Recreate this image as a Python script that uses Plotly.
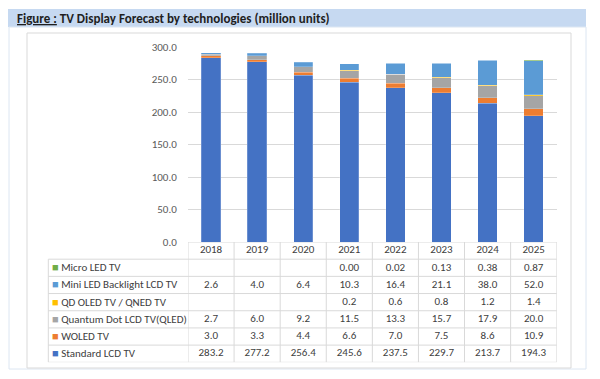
import plotly.graph_objects as go

years = ["2018", "2019", "2020", "2021", "2022", "2023", "2024", "2025"]

standard_lcd = [283.2, 277.2, 256.4, 245.6, 237.5, 229.7, 213.7, 194.3]
woled = [3.0, 3.3, 4.4, 6.6, 7.0, 7.5, 8.6, 10.9]
qled = [2.7, 6.0, 9.2, 11.5, 13.3, 15.7, 17.9, 20.0]
qd_oled = [None, None, None, 0.2, 0.6, 0.8, 1.2, 1.4]
mini_led = [2.6, 4.0, 6.4, 10.3, 16.4, 21.1, 38.0, 52.0]
micro_led = [None, None, None, 0.00, 0.02, 0.13, 0.38, 0.87]

# bottom-to-top stacking order: (name, values, colour, number format)
series = [
    ("Standard LCD TV", standard_lcd, "#4472C4", "{:.1f}"),
    ("WOLED TV", woled, "#ED7D31", "{:.1f}"),
    ("Quantum Dot LCD TV(QLED)", qled, "#A5A5A5", "{:.1f}"),
    ("QD OLED TV / QNED TV", qd_oled, "#FFC000", "{:.1f}"),
    ("Mini LED Backlight LCD TV", mini_led, "#5B9BD5", "{:.1f}"),
    ("Micro LED TV", micro_led, "#70AD47", "{:.2f}"),
]

W, H = 600, 379
FONT = "Carlito, Lato"
TXT = "#404040"
GRID = "#D9D9D9"

def px(x):
    return x / W

def py(y):
    return 1 - y / H

fig = go.Figure()

for name, vals, col, fmt in series:
    fig.add_trace(go.Bar(
        x=years, y=vals, name=name,
        marker=dict(color=col, line=dict(color="rgba(255,255,255,0.35)", width=0.6)),
        showlegend=False, xaxis="x", yaxis="y",
    ))

# ---- data table under the chart (row 0 = year header, rows 1.. = series top-to-bottom)
rows = list(reversed(series))
n_rows = len(rows) + 1

tx, ty, tt = [], [], []
for i, yr in enumerate(years):
    tx.append(yr); ty.append(0); tt.append(yr)
    for r, (name, vals, col, fmt) in enumerate(rows, start=1):
        v = vals[i]
        if v is not None:
            tx.append(yr); ty.append(r); tt.append(fmt.format(v))

fig.add_trace(go.Scatter(
    x=tx, y=ty, text=tt, mode="text", xaxis="x", yaxis="y2",
    textfont=dict(family=FONT, size=11, color=TXT), showlegend=False, hoverinfo="skip",
))

tbl_x0, tbl_x1 = 48.3, 556.7
plot_x0 = 188.0
tbl_top, tbl_bot = 242.0, 362.3

annotations = [dict(
    text="<b><u>Figure :</u> TV Display Forecast by technologies (million units)</b>",
    xref="paper", yref="paper", x=px(15), y=py(18.5), xanchor="left", yanchor="middle",
    showarrow=False, font=dict(family=FONT, size=13, color="#1F1F1F"),
)]
for r, (name, vals, col, fmt) in enumerate(rows, start=1):
    annotations.append(dict(
        text=f"<span style='color:{col}'>■</span> {name}",
        xref="paper", yref="y2", x=px(tbl_x0 + 2), y=r, xanchor="left", yanchor="middle",
        showarrow=False, font=dict(family=FONT, size=11, color=TXT),
    ))

shapes = [
    # title band
    dict(type="rect", xref="paper", yref="paper", x0=px(8), x1=px(586), y0=py(27), y1=py(9),
         fillcolor="#C6D9F1", line=dict(width=0), layer="below"),
    # outer frame
    dict(type="rect", xref="paper", yref="paper", x0=px(9), x1=px(586), y0=py(369), y1=py(27),
         fillcolor="rgba(0,0,0,0)", line=dict(color="#DCE6F2", width=1), layer="below"),
    # chart area frame
    dict(type="rect", xref="paper", yref="paper", x0=px(27), x1=px(571), y0=py(368), y1=py(33),
         fillcolor="rgba(0,0,0,0)", line=dict(color="#D9D9D9", width=1), layer="below"),
]
# table horizontal rules
for k in range(n_rows + 1):
    shapes.append(dict(type="line", xref="paper", yref="y2",
                       x0=px(plot_x0 if k == 0 else tbl_x0), x1=px(tbl_x1),
                       y0=k - 0.5, y1=k - 0.5, line=dict(color=GRID, width=1)))
# table vertical rules at category boundaries
for j in range(len(years) + 1):
    shapes.append(dict(type="line", xref="x", yref="y2", x0=j - 0.5, x1=j - 0.5,
                       y0=-0.5, y1=n_rows - 0.5, line=dict(color=GRID, width=1)))
# left edge of the label column
shapes.append(dict(type="line", xref="paper", yref="y2", x0=px(tbl_x0), x1=px(tbl_x0),
                   y0=0.5, y1=n_rows - 0.5, line=dict(color=GRID, width=1)))

fig.update_layout(
    width=W, height=H,
    margin=dict(l=0, r=0, t=0, b=0, autoexpand=False),
    paper_bgcolor="white", plot_bgcolor="white",
    showlegend=False,
    barmode="stack", bargap=0.58,
    font=dict(family=FONT, size=11, color=TXT),
    shapes=shapes, annotations=annotations,
    xaxis=dict(domain=[px(plot_x0), px(tbl_x1)], showticklabels=False, showgrid=False,
               zeroline=False, showline=False, fixedrange=True, automargin=False,
               range=[-0.5, len(years) - 0.5]),
    yaxis=dict(domain=[py(tbl_top), py(47)], range=[0, 300], dtick=50, tickformat=".1f",
               showgrid=True, gridcolor=GRID, gridwidth=1, zeroline=False, showline=False,
               ticks="outside", ticklen=8, tickcolor="rgba(0,0,0,0)", automargin=False,
               tickfont=dict(family=FONT, size=11, color="#595959")),
    yaxis2=dict(domain=[py(tbl_bot), py(tbl_top)], range=[n_rows - 0.5, -0.5],
                showticklabels=False, showgrid=False, zeroline=False, showline=False,
                anchor="x", fixedrange=True, automargin=False),
)

fig.write_html(
    "out.html",
    config={"displayModeBar": False},
    post_script="document.body.style.margin='0';document.body.style.overflow='hidden';",
)
